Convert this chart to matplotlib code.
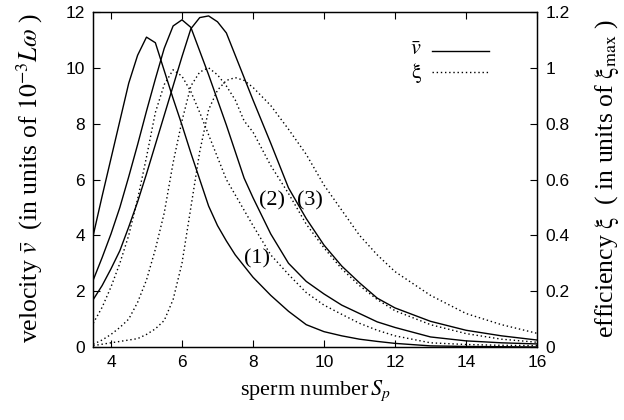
import matplotlib
matplotlib.use("Agg")
import matplotlib.pyplot as plt

# fonts: serif (Times-like) for labels, sans for tick numbers
plt.rcParams['font.family'] = ['Liberation Serif', 'DejaVu Serif']
plt.rcParams['mathtext.fontset'] = 'stix'

# sperm number grid
sp = [3.5, 3.75, 4.0, 4.25, 4.5, 4.75, 5.0, 5.25, 5.5, 5.75, 6.0, 6.25, 6.5, 6.75,
      7.0, 7.25, 7.5, 7.75, 8.0, 8.5, 9.0, 9.5, 10.0, 10.5, 11.0, 11.5, 12.0,
      13.0, 14.0, 15.0, 16.0]

# velocity (units of 1e-3 L omega), cases (1) (2) (3)
vel1 = [4.0, 5.4, 6.75, 8.1, 9.45, 10.45, 11.1, 10.9, 9.9, 8.9, 7.95, 6.95, 6.0, 5.05,
        4.35, 3.8, 3.3, 2.9, 2.5, 1.85, 1.28, 0.8, 0.55, 0.4, 0.28, 0.2, 0.13,
        0.04, 0.02, 0.01, 0.0]
vel2 = [2.4, 3.2, 4.05, 5.0, 6.1, 7.25, 8.45, 9.6, 10.7, 11.5, 11.72, 11.45, 10.6, 9.75,
        8.85, 7.95, 7.0, 6.05, 5.35, 4.05, 3.0, 2.35, 1.9, 1.5, 1.2, 0.9, 0.7,
        0.36, 0.22, 0.15, 0.11]
vel3 = [1.7, 2.2, 2.8, 3.45, 4.3, 5.2, 6.2, 7.25, 8.3, 9.35, 10.4, 11.4, 11.8, 11.86,
        11.65, 11.25, 10.45, 9.65, 8.85, 7.3, 5.7, 4.6, 3.65, 2.9, 2.3, 1.75, 1.4,
        0.92, 0.6, 0.4, 0.25]

# efficiency (units of xi_max)
eff1 = [0.085, 0.142, 0.215, 0.30, 0.40, 0.53, 0.68, 0.84, 0.94, 0.993, 0.97, 0.915, 0.84, 0.76,
        0.68, 0.60, 0.545, 0.49, 0.435, 0.33, 0.26, 0.195, 0.15, 0.117, 0.085, 0.06, 0.04,
        0.015, 0.009, 0.006, 0.005]
eff2 = [0.01, 0.025, 0.045, 0.07, 0.10, 0.16, 0.24, 0.35, 0.48, 0.66, 0.81, 0.935, 0.985, 1.0,
        0.975, 0.935, 0.885, 0.81, 0.77, 0.65, 0.55, 0.44, 0.355, 0.28, 0.22, 0.17, 0.13,
        0.08, 0.048, 0.028, 0.017]
eff3 = [0.005, 0.01, 0.015, 0.02, 0.025, 0.03, 0.045, 0.065, 0.095, 0.17, 0.30, 0.50, 0.70, 0.85,
        0.92, 0.955, 0.965, 0.955, 0.93, 0.865, 0.78, 0.69, 0.58, 0.49, 0.40, 0.33, 0.27,
        0.185, 0.12, 0.08, 0.049]

fig = plt.figure(figsize=(6.24, 4.2), dpi=100)
ax = fig.add_axes([0.1494, 0.1738, 0.7112, 0.7976])
ax2 = ax.twinx()

for v in (vel1, vel2, vel3):
    ax.plot(sp, v, color='black', lw=1.0)
for e in (eff1, eff2, eff3):
    ax2.plot(sp, e, color='black', lw=1.0, ls=(0, (1, 2)))

ax.set_xlim(3.5, 16)
ax.set_ylim(0, 12)
ax2.set_ylim(0, 1.2)
ax.set_xticks([4, 6, 8, 10, 12, 14, 16])
ax.set_yticks([0, 2, 4, 6, 8, 10, 12])
ax2.set_yticks([0, 0.2, 0.4, 0.6, 0.8, 1.0, 1.2])
ax2.set_yticklabels(['0', '0.2', '0.4', '0.6', '0.8', '1', '1.2'])

ax.tick_params(axis='both', direction='in', length=5, width=0.8, top=True,
               labelsize=12.5, pad=6, labelfontfamily='Liberation Sans')
ax2.tick_params(axis='y', direction='in', length=5, width=0.8,
                labelsize=12.5, pad=6, labelfontfamily='Liberation Sans')
for a in (ax, ax2):
    for s in a.spines.values():
        s.set_linewidth(0.9)

ax.set_xlabel(r'sperm number$\,S_p$', fontsize=16, labelpad=6)
fig.text(0.047, 0.575, r'velocity $\bar{v}$  (in units of $10^{-3}L\omega$ )',
         fontsize=18.5, rotation=90, ha='center', va='center')
fig.text(0.972, 0.575, r'efficiency $\mathrm{\xi}$  ( in units of $\mathrm{\xi}_{\mathrm{max}}$ )',
         fontsize=18.5, rotation=90, ha='center', va='center')

# case labels
ax.text(8.1, 3.15, '(1)', fontsize=16, ha='center', va='center')
ax.text(8.53, 5.25, '(2)', fontsize=16, ha='center', va='center')
ax.text(9.6, 5.25, '(3)', fontsize=16, ha='center', va='center')

# legend
ax.text(12.75, 10.62, r'$\bar{v}$', fontsize=16, ha='right', va='center')
ax.plot([13.05, 14.65], [10.6, 10.6], color='black', lw=1.0)
ax.text(12.75, 9.82, r'$\mathrm{\xi}$', fontsize=16, ha='right', va='center')
ax.plot([13.05, 14.65], [9.85, 9.85], color='black', lw=1.0, ls=(0, (1, 2)))

fig.savefig('out.png', dpi=100)
